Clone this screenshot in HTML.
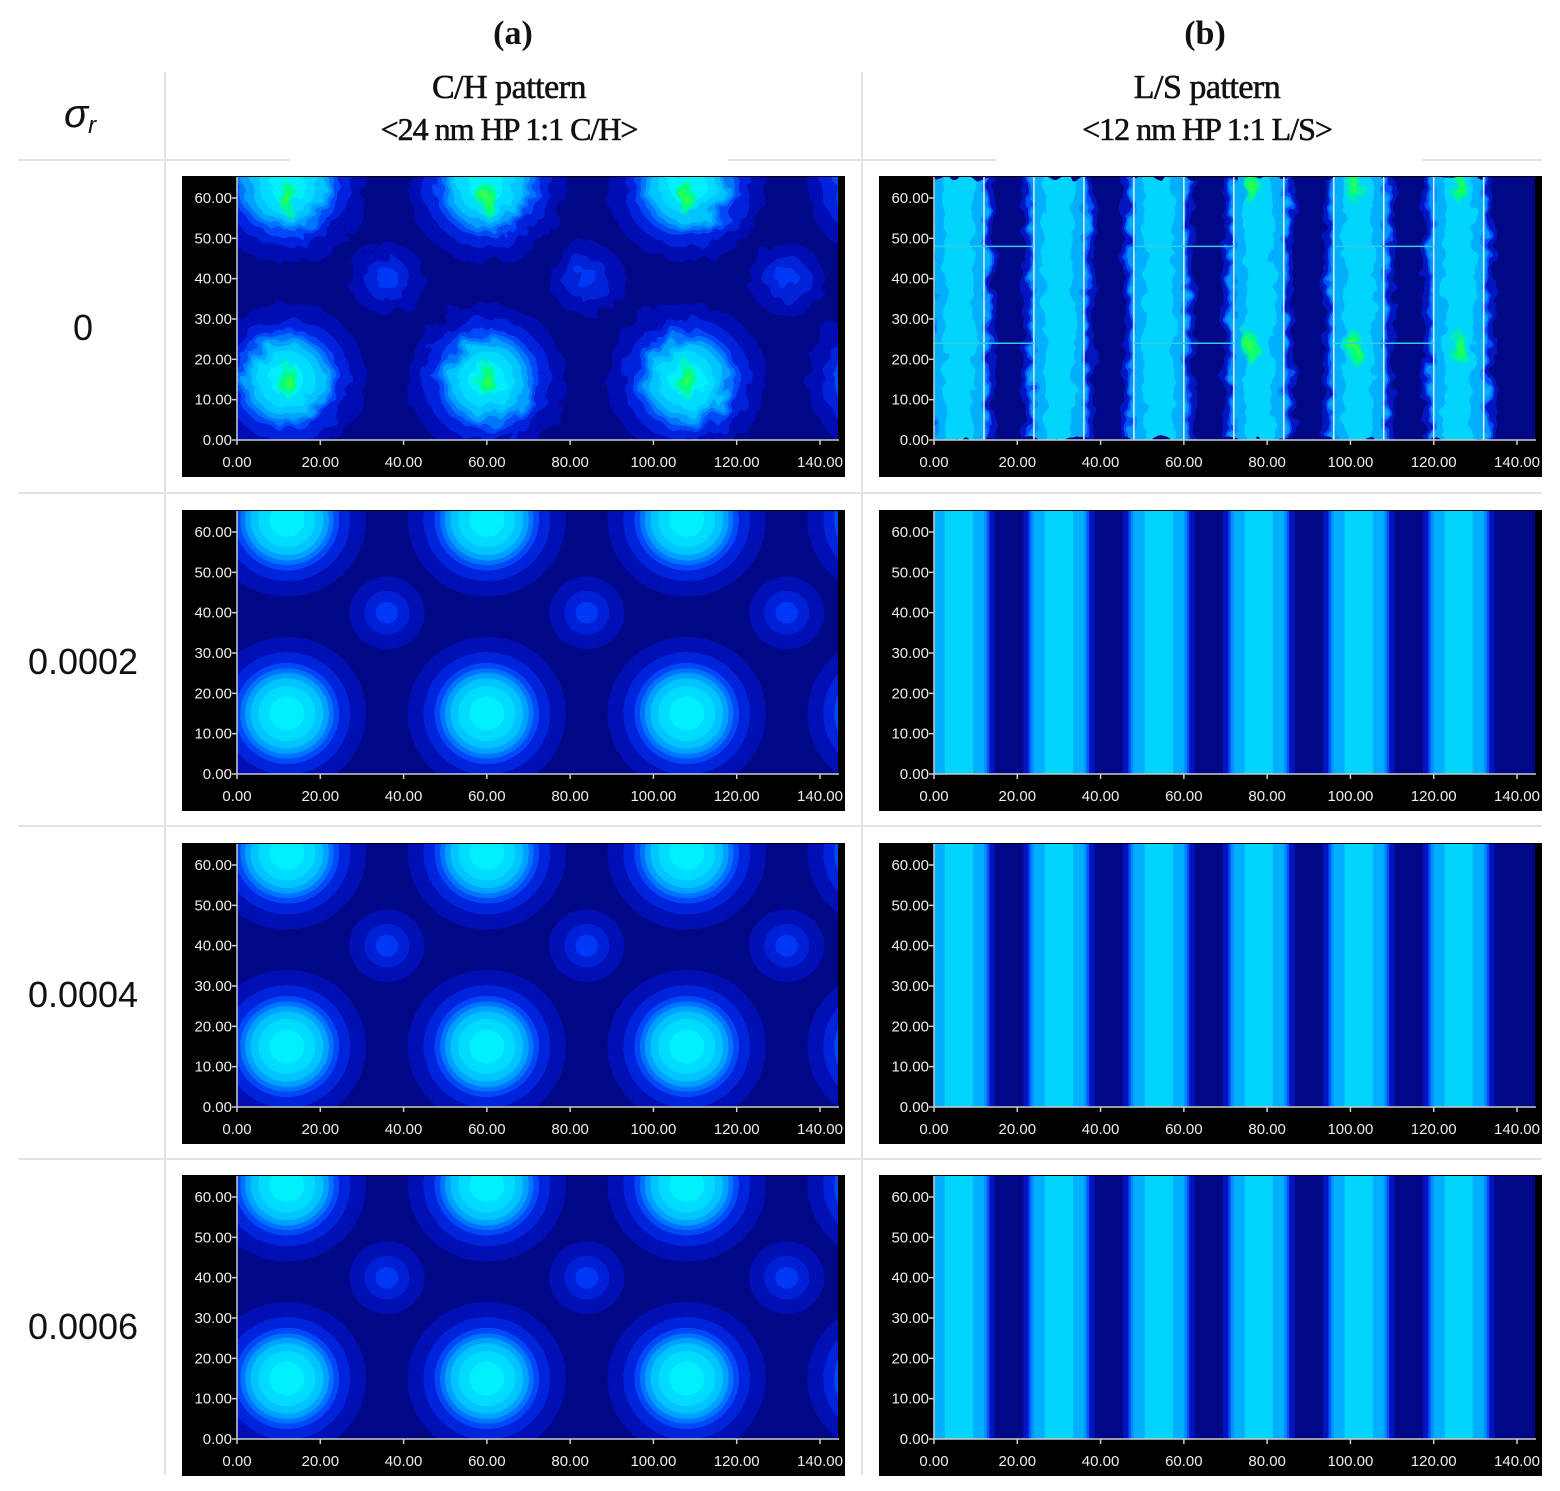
<!DOCTYPE html>
<html><head><meta charset="utf-8">
<style>
html,body{margin:0;padding:0;background:#fff;}
#fig{position:absolute;left:0;top:0;width:1560px;height:1491px;}
</style></head>
<body>
<svg id="fig" width="1560" height="1491" viewBox="0 0 1560 1491" xmlns="http://www.w3.org/2000/svg">
<defs>
<radialGradient id="bigHole">
 <stop offset="0" stop-color="#00f0ff"/><stop offset="0.22" stop-color="#00f0ff"/>
 <stop offset="0.22" stop-color="#00dcff"/><stop offset="0.36" stop-color="#00dcff"/>
 <stop offset="0.36" stop-color="#00c4ff"/><stop offset="0.46" stop-color="#00c4ff"/>
 <stop offset="0.46" stop-color="#00a0ff"/><stop offset="0.53" stop-color="#00a0ff"/>
 <stop offset="0.53" stop-color="#0074ff"/><stop offset="0.59" stop-color="#0074ff"/>
 <stop offset="0.59" stop-color="#0048f8"/><stop offset="0.66" stop-color="#0048f8"/>
 <stop offset="0.66" stop-color="#0024dc"/><stop offset="0.8" stop-color="#0024dc"/>
 <stop offset="0.8" stop-color="#0010b4"/><stop offset="1" stop-color="#0010b4"/>
</radialGradient>
<radialGradient id="smallHole">
 <stop offset="0" stop-color="#0038f8"/><stop offset="0.3" stop-color="#0038f8"/>
 <stop offset="0.3" stop-color="#0020d8"/><stop offset="0.6" stop-color="#0020d8"/>
 <stop offset="0.6" stop-color="#0010b4"/><stop offset="1" stop-color="#0010b4"/>
</radialGradient>
<radialGradient id="greenCore">
 <stop offset="0" stop-color="#40ff40"/><stop offset="0.5" stop-color="#00ff80"/><stop offset="1" stop-color="#00ff80" stop-opacity="0"/>
</radialGradient>
<filter id="noisy" x="-10%" y="-10%" width="120%" height="120%">
 <feTurbulence type="fractalNoise" baseFrequency="0.06" numOctaves="2" seed="3" result="t"/>
 <feDisplacementMap in="SourceGraphic" in2="t" scale="18"/>
</filter>
</defs>
<g id="tableLines"></g>
<g id="headers"></g>
<g id="panels"></g>
</svg>
<script>
// ===== data =====
const sigmaLabels = ["0","0.0002","0.0004","0.0006"];
const xTicks = [0,20,40,60,80,100,120,140];
const yTicks = [0,10,20,30,40,50,60];
const holeX = [12,60,108,156];          // contact-hole centers (nm)
const holeY = [15,63];
const holeR = [19,19,19,19];
const smallX = [-12,36,84,132];
const smallY = [40];
const smallR = [9];
const lineX = [6,30,54,78,102,126];      // L/S line centers (nm)
const lineW = 12;
const greenX = [12,60,108];
const greenY = [15,60];
const lsGreenX = [76,101,126];
const lsGreenY = [23,63];
const refLineX = [12,24,36,48,60,72,84,96,108,120,132];
const refLineY = [24,48];

const NS = "http://www.w3.org/2000/svg";
function mk(tag, attrs, parent){const e=document.createElementNS(NS,tag);for(const k in attrs)e.setAttribute(k,attrs[k]);if(parent)parent.appendChild(e);return e;}

// ===== table/header =====
const tl = document.getElementById('tableLines');
const tlines = [[165,72,165,1475],[862,72,862,1475],[18,160,290,160],[728,160,996,160],[1422,160,1542,160],[18,493,1542,493],[18,826,1542,826],[18,1159,1542,1159]];
tlines.forEach(l=>{const e=mk('line',{x1:l[0],y1:l[1],x2:l[2],y2:l[3],stroke:'#e2e2e2','stroke-width':2},tl);

});
const hd = document.getElementById('headers');
function txt(x,y,s,size,fam,extra,name){const t=mk('text',Object.assign({x:x,y:y,'font-size':size,'font-family':fam,'text-anchor':'middle',fill:'#111'},extra||{}),hd);t.textContent=s;

return t;}
const serif='"Liberation Serif", serif', sans='"Liberation Sans", sans-serif';
txt(513,44,"(a)",34,serif,{'font-weight':'bold'},'panel-a-label');
txt(1205,44,"(b)",34,serif,{'font-weight':'bold'},'panel-b-label');
txt(509,98,"C/H pattern",34,serif,{'letter-spacing':'-0.5','stroke':'#111','stroke-width':0.6},'ch-title');
txt(509,140,"<24 nm HP 1:1 C/H>",32,serif,{'letter-spacing':'-1','stroke':'#111','stroke-width':0.6},'ch-subtitle');
txt(1207,98,"L/S pattern",34,serif,{'letter-spacing':'-0.5','stroke':'#111','stroke-width':0.6},'ls-title');
txt(1207,140,"<12 nm HP 1:1 L/S>",32,serif,{'letter-spacing':'-1','stroke':'#111','stroke-width':0.6},'ls-subtitle');
const sg=txt(80,127,"σ",40,sans,{'font-style':'italic'},'sigma-header');
const sub=mk('tspan',{'font-size':24,dy:6},sg);sub.textContent='r';
const rowTops=[176,510,843,1175];
sigmaLabels.forEach((s,i)=>txt(83,rowTops[i]+164,s,36,sans,{},'sigma-label-'+i));

// ===== panels =====
const P = document.getElementById('panels');
const SX=583/140, SY=242/60;
function panel(bx,by,type,row){
  const g=mk('g',{},P);
  
  
  const bw=663, bh=301, px=bx+55, py0=by+264, ptop=by+1, pw=bw-62;
  mk('rect',{x:bx,y:by,width:bw,height:bh,fill:'#000'},g);
  const cid='clip'+type+row;
  const cp=mk('clipPath',{id:cid},g); mk('rect',{x:px,y:ptop,width:pw,height:py0-ptop},cp);
  const area=mk('g',{'clip-path':'url(#'+cid+')'},g);
  
  
  const X=v=>px+v*SX, Y=v=>py0-v*SY;
  mk('rect',{x:px,y:ptop,width:pw,height:py0-ptop,fill:'#000888'},area);
  const inner=mk('g',row===0?{filter:'url(#noisy)'}:{},area);
  if(type==='ch'){
    smallX.forEach(sx=>smallY.forEach(sy=>{const c=mk('ellipse',{cx:X(sx),cy:Y(sy),rx:smallR[0]*SX,ry:smallR[0]*SY,fill:'url(#smallHole)'},inner);
      
      }));
    holeX.forEach((hx,i)=>holeY.forEach(hy=>{const c=mk('ellipse',{cx:X(hx),cy:Y(hy),rx:holeR[i]*SX,ry:holeR[i]*SY,fill:'url(#bigHole)'},inner);
      
      }));
    if(row===0) greenX.forEach(gx=>greenY.forEach(gy=>{const c=mk('ellipse',{cx:X(gx),cy:Y(gy),rx:2.5*SX,ry:5*SY,fill:'url(#greenCore)'},inner);
      
      }));
  } else {
    const bands=[[8.6,'#0014c0'],[7.3,'#0050ff'],[6.7,'#0090ff'],[6.0,'#00b0ff'],[3.4,'#00d4ff']];
    lineX.forEach(lx=>{bands.forEach(b=>{const r=mk('rect',{x:X(lx-b[0]),y:ptop,width:2*b[0]*SX,height:py0-ptop,fill:b[1]},inner);
      
      });});
    if(row===0){
      lsGreenX.forEach(gx=>lsGreenY.forEach(gy=>{const c=mk('ellipse',{cx:X(gx),cy:Y(gy),rx:2.2*SX,ry:5*SY,fill:'url(#greenCore)'},inner);
        
        }));
      refLineX.forEach(rx=>{const l=mk('line',{x1:X(rx),x2:X(rx),y1:ptop,y2:py0,stroke:'#e8e8ff','stroke-width':1.5},area);
        
        });
      [0,48,96].forEach(s=>refLineY.forEach(ry=>{const l=mk('line',{x1:X(s),x2:X(s+24),y1:Y(ry),y2:Y(ry),stroke:'#30d0e0','stroke-width':1.5},area);
        
        }));
    }
  }
  // axes
  mk('line',{x1:px,y1:ptop,x2:px,y2:py0,stroke:'#ccc','stroke-width':1.5},g);
  mk('line',{x1:px,y1:py0,x2:bx+bw-6,y2:py0,stroke:'#ccc','stroke-width':1.5},g);
  xTicks.forEach(t=>{mk('line',{x1:X(t),x2:X(t),y1:py0,y2:py0+5,stroke:'#ccc','stroke-width':1.5},g);
    const e=mk('text',{x:X(t),y:py0+27,fill:'#eee','font-size':15,'font-family':sans,'text-anchor':'middle'},g);e.textContent=t.toFixed(2);
    
    });
  yTicks.forEach(t=>{mk('line',{x1:px-5,x2:px,y1:Y(t),y2:Y(t),stroke:'#ccc','stroke-width':1.5},g);
    const e=mk('text',{x:px-5,y:Y(t)+5,fill:'#eee','font-size':15,'font-family':sans,'text-anchor':'end'},g);e.textContent=t.toFixed(2);
    
    });
}
rowTops.forEach((t,i)=>{panel(182,t,'ch',i);panel(879,t,'ls',i);});
</script>
</body></html>
